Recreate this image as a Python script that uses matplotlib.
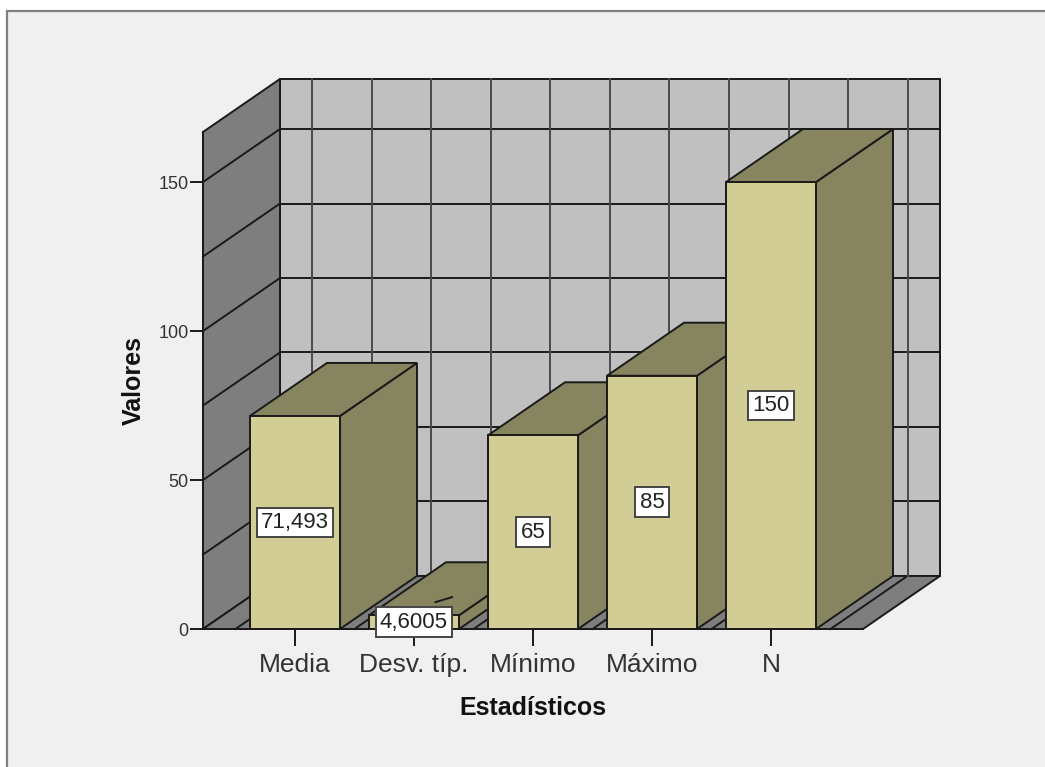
import matplotlib
matplotlib.use('Agg')
import matplotlib.pyplot as plt
from matplotlib.patches import Polygon, Rectangle

plt.rcParams['font.family'] = ['Liberation Sans', 'DejaVu Sans']

# ---- datos ----
estadisticos = ['Media', 'Desv. típ.', 'Mínimo', 'Máximo', 'N']
valores = [71.493, 4.6005, 65, 85, 150]
etiquetas = ['71,493', '4,6005', '65', '85', '150']
ticks_y = [0, 50, 100, 150]
rejilla_y = [25, 50, 75, 100, 125, 150]
rejilla_x = [-0.5, 0, 0.5, 1, 1.5, 2, 2.5, 3, 3.5, 4, 4.5]

# ---- estilo ----
W, H = 1045, 767
C_FONDO, C_BORDE = '#f0f0f0', '#808080'
C_PARED, C_LATERAL = '#c0c0c0', '#7e7e7e'
C_FRENTE, C_SOMBRA = '#d2cd94', '#87855f'
C_LINEA = '#1a1a1a'
LW = 1.4

# profundidad del falso 3D, en unidades de los ejes
DX, DY = 0.647, 17.8
ANCHO = 0.756
X0, X1 = -0.773, 4.773
Y1 = 166.8

fig = plt.figure(figsize=(W / 100, H / 100), dpi=100, facecolor='white')
fig.patches.append(Rectangle((6.5 / W, -0.01), 1, 1.01 - 11 / H, transform=fig.transFigure,
                             facecolor=C_FONDO, edgecolor=C_BORDE, linewidth=1.6, zorder=-1))

ax = fig.add_axes([203 / W, (H - 629) / H, 660 / W, 497 / H])
ax.set_xlim(X0, X1)
ax.set_ylim(0, Y1)
ax.patch.set_visible(False)


def cara(puntos, color, z):
    ax.add_patch(Polygon(puntos, closed=True, facecolor=color, edgecolor=C_LINEA,
                         linewidth=LW, joinstyle='miter', zorder=z, clip_on=False))


# paredes y suelo
cara([(X0 + DX, DY), (X1 + DX, DY), (X1 + DX, Y1 + DY), (X0 + DX, Y1 + DY)], C_PARED, 1)
cara([(X0, 0), (X0 + DX, DY), (X0 + DX, Y1 + DY), (X0, Y1)], C_LATERAL, 1)
cara([(X0, 0), (X1, 0), (X1 + DX, DY), (X0 + DX, DY)], C_LATERAL, 1)

# rejilla
for v in rejilla_y:
    ax.plot([X0, X0 + DX], [v, v + DY], color=C_LINEA, lw=LW, zorder=2, clip_on=False)
    ax.plot([X0 + DX, X1 + DX], [v + DY, v + DY], color=C_LINEA, lw=LW, zorder=2, clip_on=False)
for x in rejilla_x:
    ax.plot([x, x + DX], [0, DY], color=C_LINEA, lw=LW, zorder=2, clip_on=False)
    ax.plot([x + DX, x + DX], [DY, Y1 + DY], color='#4a4a4a', lw=LW, zorder=2, clip_on=False)

# barras, de izquierda a derecha para que se tapen bien
for i, v in enumerate(valores):
    a, b = i - ANCHO / 2, i + ANCHO / 2
    z = 3 + i * 0.1
    cara([(b, 0), (b + DX, DY), (b + DX, v + DY), (b, v)], C_SOMBRA, z)
    cara([(a, v), (b, v), (b + DX, v + DY), (a + DX, v + DY)], C_SOMBRA, z)
    cara([(a, 0), (b, 0), (b, v), (a, v)], C_FRENTE, z)

# linea guia de la etiqueta desplazada
ax.plot([1.18, 1.32], [9, 10.7], color=C_LINEA, lw=LW, zorder=3.5, clip_on=False)

for i, (v, txt) in enumerate(zip(valores, etiquetas)):
    ax.text(i, v / 2, txt, ha='center', va='center', fontsize=16, color='#222222', zorder=5,
            bbox=dict(boxstyle='square,pad=0.2', facecolor='white', edgecolor='#444444', linewidth=1.4))

# ejes
for lado in ['top', 'right']:
    ax.spines[lado].set_visible(False)
for lado in ['left', 'bottom']:
    ax.spines[lado].set_linewidth(LW)
    ax.spines[lado].set_color(C_LINEA)
    ax.spines[lado].set_zorder(4)

ax.set_xticks(range(len(estadisticos)))
ax.set_xticklabels(estadisticos, fontsize=19, color='#333333')
ax.set_yticks(ticks_y)
ax.set_yticklabels([str(t) for t in ticks_y], fontsize=13, color='#333333')
ax.tick_params(axis='x', length=12.5, width=LW, color=C_LINEA, pad=5)
ax.tick_params(axis='y', length=9.5, width=LW, color=C_LINEA, pad=1)

fig.text(533 / W, 1 - 708 / H, 'Estadísticos', ha='center', va='center',
         fontsize=18, fontweight='bold', color='#111111')
fig.text(134 / W, 1 - 380 / H, 'Valores', ha='center', va='center', rotation=90,
         fontsize=18, fontweight='bold', color='#111111')

plt.savefig('out.png', dpi=100)
plt.close()
